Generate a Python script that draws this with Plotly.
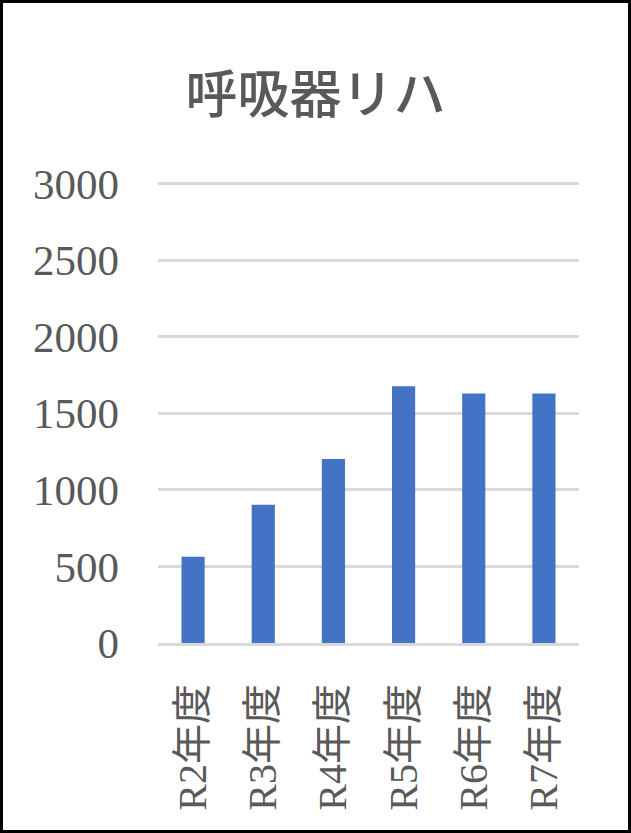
import plotly.graph_objects as go

categories = ["R2年度", "R3年度", "R4年度", "R5年度", "R6年度", "R7年度"]
values = [563, 903, 1203, 1678, 1630, 1630]
y_ticks = [0, 500, 1000, 1500, 2000, 2500, 3000]
title_text = "呼吸器リハ"

W, H = 631, 833
ml, mr, mt, mb = 158, 52, 182, 190
pw, ph = W - ml - mr, H - mt - mb

font_fam = "Liberation Serif, Noto Sans CJK JP, serif"
txt_col = "#595959"

fig = go.Figure(go.Bar(x=categories, y=values, marker=dict(color="#4472C4", line_width=0)))

fig.update_layout(
    width=W, height=H,
    margin=dict(l=ml, r=mr, t=mt, b=mb),
    paper_bgcolor="white", plot_bgcolor="white",
    bargap=0.67,
    showlegend=False,
    title=dict(text=title_text, x=0.5, xanchor="center", y=1 - 95 / H, yanchor="middle",
               font=dict(family="Noto Sans CJK JP", size=52, color=txt_col, weight=500)),
    font=dict(family=font_fam, color=txt_col),
)
fig.update_yaxes(range=[0, 3012], tickvals=y_ticks, showgrid=True, gridcolor="#D9D9D9", gridwidth=3,
                 zeroline=False, showline=False, ticks="", ticklabelstandoff=38,
                 tickfont=dict(family=font_fam, size=43, color=txt_col))
fig.update_xaxes(showgrid=False, showline=True, linecolor="#D9D9D9", linewidth=3, ticks="",
                 tickangle=-90, ticklabelstandoff=22,
                 tickfont=dict(family=font_fam, size=40, color=txt_col))

# outer border around the whole chart image
fig.add_shape(type="rect", xref="paper", yref="paper",
              x0=(-ml + 1.5) / pw, x1=(W - ml - 1.5) / pw,
              y0=(-mb + 1.5) / ph, y1=(H - mb - 1.5) / ph,
              line=dict(color="black", width=3), fillcolor="rgba(0,0,0,0)", layer="above")

fig.write_html("out.html", config={"displayModeBar": False},
               post_script="document.body.style.margin='0';document.body.style.overflow='hidden';")
